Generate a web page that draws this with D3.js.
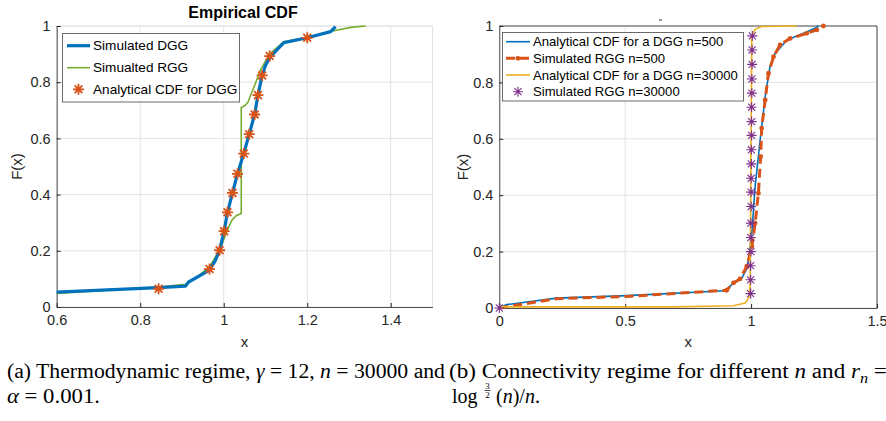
<!DOCTYPE html>
<html>
<head>
<meta charset="utf-8">
<script src="https://cdn.jsdelivr.net/npm/d3@7"></script>
<style>
  body { margin: 0; background: #fff; }
  svg { display: block; }
</style>
</head>
<body>
<div id="chart"></div>
<script>
// ---- data ----
// (a) thermodynamic regime
const dggSim = [[0.6,0.053],[0.844,0.069],[0.908,0.074],[0.916,0.089],[0.966,0.131],[0.98,0.166],[0.99,0.202],
  [1.001,0.27],[1.009,0.337],[1.021,0.406],[1.033,0.474],[1.048,0.546],[1.061,0.615],[1.074,0.685],[1.082,0.754],
  [1.092,0.824],[1.1,0.86],[1.112,0.891],[1.144,0.941],[1.2,0.958],[1.256,0.98],[1.268,0.998]];
const rggSim = [[0.6,0.048],[0.844,0.071],[0.908,0.081],[0.93,0.1],[0.966,0.143],[0.992,0.208],[1.005,0.26],
  [1.012,0.285],[1.02,0.31],[1.03,0.325],[1.042,0.333],[1.042,0.71],[1.05,0.716],[1.058,0.728],[1.066,0.76],
  [1.076,0.796],[1.088,0.843],[1.1,0.875],[1.112,0.903],[1.144,0.944],[1.2,0.96],[1.264,0.983],[1.304,0.995],[1.34,1.0]];
const dggAnalytic = [[0.844,0.065],[0.966,0.135],[0.99,0.202],[1.001,0.27],[1.009,0.337],[1.021,0.406],[1.033,0.474],
  [1.048,0.546],[1.061,0.615],[1.074,0.685],[1.082,0.754],[1.092,0.824],[1.11,0.893],[1.2,0.958]];

// (b) connectivity regime
const dgg500 = [[0,0],[0.029,0.012],[0.228,0.035],[0.506,0.044],[0.897,0.061],[0.923,0.083],[0.963,0.106],
  [0.981,0.136],[0.99,0.171],[1.003,0.266],[1.016,0.431],[1.036,0.596],[1.056,0.75],[1.075,0.856],[1.095,0.903],
  [1.142,0.95],[1.208,0.974],[1.254,0.992],[1.268,1.0]];
const rgg500 = [[0,0],[0.228,0.033],[0.506,0.041],[0.903,0.063],[0.93,0.089],[0.956,0.103],[0.983,0.148],
  [1.003,0.218],[1.016,0.301],[1.029,0.407],[1.038,0.537],[1.042,0.638],[1.056,0.738],[1.069,0.832],[1.089,0.891],
  [1.115,0.933],[1.155,0.956],[1.221,0.974],[1.261,0.986],[1.287,1.0]];
const dgg30000 = [[0,0.004],[0.691,0.004],[0.93,0.008],[0.976,0.018],[0.99,0.035],[0.996,0.077],[0.999,0.5],
  [1.003,0.963],[1.016,0.988],[1.042,0.998],[1.181,1.0]];
const rgg30000 = [[0,0],[0.998,0.051],[0.998,0.1],[0.998,0.15],[0.999,0.2],[0.999,0.25],[0.999,0.301],[1.0,0.36],
  [1.0,0.411],[1.0,0.46],[1.001,0.511],[1.001,0.561],[1.002,0.612],[1.002,0.661],[1.002,0.712],[1.003,0.762],
  [1.003,0.812],[1.004,0.864],[1.004,0.915],[1.005,0.965]];

const ticksA = [0.6, 0.8, 1, 1.2, 1.4];
const ticksB = [0, 0.5, 1, 1.5];
const ticksY = [0, 0.2, 0.4, 0.6, 0.8, 1];

const legendA = ["Simulated DGG", "Simualted RGG", "Analytical CDF for DGG"];
const legendB = ["Analytical CDF for a DGG n=500", "Simulated RGG n=500",
  "Analytical CDF for a DGG n=30000", "Simulated RGG n=30000"];

// ---- drawing ----
const width = 886, height = 421;
const blue = "#0072BD", red = "#D95319", yellow = "#EDB120", purple = "#7E2F8E", green = "#77AC30";
const axisCol = "#262626", gridCol = "#e3e3e3";
const sans = "'Liberation Sans', Arial, Helvetica, sans-serif";
const serif = "'Liberation Serif', 'Times New Roman', serif";

const svg = d3.select("#chart").append("svg")
  .attr("width", width).attr("height", height)
  .attr("font-family", sans);

// asterisk marker path (MATLAB '*')
function star(r) {
  const d = r * Math.SQRT1_2;
  return `M${-r},0L${r},0M0,${-r}L0,${r}M${-d},${-d}L${d},${d}M${-d},${d}L${d},${-d}`;
}

function panel(opts) {
  const x = d3.scaleLinear().domain(opts.xDomain).range(opts.xRange);
  const y = d3.scaleLinear().domain([0, 1]).range(opts.yRange);
  const g = svg.append("g");
  const [x0, x1] = opts.xRange, [y0, y1] = opts.yRange;

  // grid
  g.append("g").selectAll("line").data(opts.xTicks).join("line")
    .attr("x1", d => x(d)).attr("x2", d => x(d)).attr("y1", y0).attr("y2", y1)
    .attr("stroke", gridCol);
  g.append("g").selectAll("line").data(ticksY).join("line")
    .attr("x1", x0).attr("x2", x1).attr("y1", d => y(d)).attr("y2", d => y(d))
    .attr("stroke", gridCol);

  // box (top / right)
  const boxCol = opts.box ? axisCol : gridCol;
  g.append("path")
    .attr("d", `M${x0},${y1}L${x1},${y1}L${x1},${y0}`)
    .attr("fill", "none").attr("stroke", boxCol).attr("stroke-width", opts.box ? 0.8 : 1);

  // axes
  const xa = g.append("g").attr("transform", `translate(0,${y0})`)
    .call(d3.axisBottom(x).tickValues(opts.xTicks).tickFormat(d => String(d))
      .tickSizeInner(-4).tickSizeOuter(0).tickPadding(8));
  const ya = g.append("g").attr("transform", `translate(${x0},0)`)
    .call(d3.axisLeft(y).tickValues(ticksY).tickFormat(d => String(d))
      .tickSizeInner(-4).tickSizeOuter(0).tickPadding(6));
  [xa, ya].forEach(a => {
    a.select(".domain").attr("stroke", axisCol).attr("stroke-width", 0.8);
    a.selectAll(".tick line").attr("stroke", axisCol);
    a.selectAll(".tick text").attr("fill", axisCol).attr("font-size", 14.5).attr("font-family", sans);
  });

  // axis labels
  g.append("text").attr("x", (x0 + x1) / 2).attr("y", 347)
    .attr("text-anchor", "middle").attr("font-size", 15).attr("fill", axisCol).text("x");
  g.append("text").attr("transform", `translate(${opts.yLabelX},${(y0 + y1) / 2}) rotate(-90)`)
    .attr("text-anchor", "middle").attr("dy", "0.35em")
    .attr("font-size", 15).attr("fill", axisCol).text("F(x)");

  return {g, x, y};
}

// ---------- (a) ----------
const A = panel({xDomain: [0.6, 1.5], xRange: [56.7, 432.5], yRange: [307, 26],
  xTicks: ticksA, yLabelX: 17, box: false});
const lineA = d3.line().x(d => A.x(d[0])).y(d => A.y(d[1]));

A.g.append("path").datum(rggSim).attr("d", lineA)
  .attr("fill", "none").attr("stroke", green).attr("stroke-width", 1.6);
A.g.append("path").datum(dggSim).attr("d", lineA)
  .attr("fill", "none").attr("stroke", blue).attr("stroke-width", 3.2).attr("stroke-linejoin", "round");
A.g.append("g").selectAll("path").data(dggAnalytic).join("path")
  .attr("transform", d => `translate(${A.x(d[0])},${A.y(d[1])})`)
  .attr("d", star(5.5)).attr("stroke", red).attr("stroke-width", 1.8).attr("fill", "none");

svg.append("text").attr("x", 243).attr("y", 18).attr("text-anchor", "middle")
  .attr("font-size", 16).attr("font-weight", "bold").attr("fill", "#000").text("Empirical CDF");

// legend (a)
{
  const lg = svg.append("g");
  lg.append("rect").attr("x", 62.5).attr("y", 33.5).attr("width", 177).attr("height", 68.5)
    .attr("fill", "#fff").attr("stroke", "#6b6b6b").attr("stroke-width", 1);
  const rows = [45.7, 67.7, 89.3];
  legendA.forEach((t, i) => {
    const yy = rows[i];
    if (i === 0) lg.append("line").attr("x1", 67).attr("x2", 90).attr("y1", yy).attr("y2", yy)
      .attr("stroke", blue).attr("stroke-width", 3.2);
    if (i === 1) lg.append("line").attr("x1", 67).attr("x2", 90).attr("y1", yy).attr("y2", yy)
      .attr("stroke", green).attr("stroke-width", 1.6);
    if (i === 2) lg.append("path").attr("transform", `translate(78.5,${yy})`).attr("d", star(5.5))
      .attr("stroke", red).attr("stroke-width", 1.8);
    lg.append("text").attr("x", 93).attr("y", yy).attr("dy", "0.35em")
      .attr("font-size", 13.6).attr("fill", "#000").text(t);
  });
}

// ---------- (b) ----------
const B = panel({xDomain: [0, 1.5], xRange: [499.3, 877], yRange: [308, 26],
  xTicks: ticksB, yLabelX: 463, box: true});
const lineB = d3.line().x(d => B.x(d[0])).y(d => B.y(d[1]));

B.g.append("path").datum(dgg500).attr("d", lineB)
  .attr("fill", "none").attr("stroke", blue).attr("stroke-width", 1.6);
B.g.append("path").datum(rgg500).attr("d", lineB)
  .attr("fill", "none").attr("stroke", red).attr("stroke-width", 3)
  .attr("stroke-dasharray", "9,5");
B.g.append("g").selectAll("circle").data(rgg500.filter(d => d[0] > 0.85)).join("circle")
  .attr("cx", d => B.x(d[0])).attr("cy", d => B.y(d[1])).attr("r", 2.4).attr("fill", red);
B.g.append("path").datum(dgg30000).attr("d", lineB)
  .attr("fill", "none").attr("stroke", yellow).attr("stroke-width", 1.6);
B.g.append("g").selectAll("path").data(rgg30000).join("path")
  .attr("transform", d => `translate(${B.x(d[0])},${B.y(d[1])})`)
  .attr("d", star(5)).attr("stroke", purple).attr("stroke-width", 1.1).attr("fill", "none");

// remnant of cut-off title
svg.append("line").attr("x1", 659).attr("x2", 662).attr("y1", 20).attr("y2", 20)
  .attr("stroke", "#333").attr("stroke-width", 1);

// legend (b)
{
  const lg = svg.append("g");
  lg.append("rect").attr("x", 502.5).attr("y", 32.5).attr("width", 241).attr("height", 68.5)
    .attr("fill", "#fff").attr("stroke", "#6b6b6b").attr("stroke-width", 1);
  const rows = [41.7, 58.3, 75, 91.7];
  legendB.forEach((t, i) => {
    const yy = rows[i];
    if (i === 0) lg.append("line").attr("x1", 506).attr("x2", 530).attr("y1", yy).attr("y2", yy)
      .attr("stroke", blue).attr("stroke-width", 1.6);
    if (i === 1) {
      lg.append("line").attr("x1", 506).attr("x2", 530).attr("y1", yy).attr("y2", yy)
        .attr("stroke", red).attr("stroke-width", 3).attr("stroke-dasharray", "9,5");
      lg.append("circle").attr("cx", 518).attr("cy", yy).attr("r", 2.4).attr("fill", red);
    }
    if (i === 2) lg.append("line").attr("x1", 506).attr("x2", 530).attr("y1", yy).attr("y2", yy)
      .attr("stroke", yellow).attr("stroke-width", 1.6);
    if (i === 3) lg.append("path").attr("transform", `translate(518,${yy})`).attr("d", star(5))
      .attr("stroke", purple).attr("stroke-width", 1.1);
    lg.append("text").attr("x", 533).attr("y", yy).attr("dy", "0.35em")
      .attr("font-size", 13.1).attr("fill", "#000").text(t);
  });
}

// ---------- captions ----------
function caption(x, y, parts, targetWidth) {
  const t = svg.append("text").attr("x", x).attr("y", y)
    .attr("font-family", serif).attr("font-size", 20).attr("fill", "#000");
  parts.forEach(p => {
    const s = t.append("tspan").text(p.t);
    if (p.i) s.attr("font-style", "italic");
    if (p.sub) s.attr("font-size", 14).attr("dy", 5);
    if (p.back) s.attr("dy", -5);
  });
  if (targetWidth) {
    const w = t.node().getComputedTextLength();
    const k = targetWidth / w;
    t.attr("transform", `translate(${x},0) scale(${k},1) translate(${-x},0)`);
  }
  return t;
}

caption(7, 378, [
  {t: "(a) Thermodynamic regime, "}, {t: "γ", i: true}, {t: " = 12, "}, {t: "n", i: true},
  {t: " = 30000 and"}], 438);
caption(7, 403, [{t: "α", i: true}, {t: " = 0.001."}], 93);

caption(449, 378, [
  {t: "(b) Connectivity regime for different "}, {t: "n", i: true}, {t: " and "},
  {t: "r", i: true}, {t: "n", i: true, sub: true}, {t: "  =", back: true}], 438);

// log^{3/2}(n)/n.
{
  const yb = 403;
  svg.append("text").attr("x", 452).attr("y", yb).attr("font-family", serif)
    .attr("font-size", 20).text("log");
  svg.append("text").attr("x", 487.5).attr("y", yb - 14.5).attr("text-anchor", "middle")
    .attr("font-family", serif).attr("font-size", 9).text("3");
  svg.append("line").attr("x1", 484.5).attr("x2", 490.5).attr("y1", yb - 12.5).attr("y2", yb - 12.5)
    .attr("stroke", "#000").attr("stroke-width", 0.7);
  svg.append("text").attr("x", 487.5).attr("y", yb - 5).attr("text-anchor", "middle")
    .attr("font-family", serif).attr("font-size", 9).text("2");
  const t = svg.append("text").attr("x", 496).attr("y", yb).attr("font-family", serif).attr("font-size", 20);
  t.append("tspan").text("(");
  t.append("tspan").attr("font-style", "italic").text("n");
  t.append("tspan").text(")/");
  t.append("tspan").attr("font-style", "italic").text("n");
  t.append("tspan").text(".");
}
</script>
</body>
</html>
